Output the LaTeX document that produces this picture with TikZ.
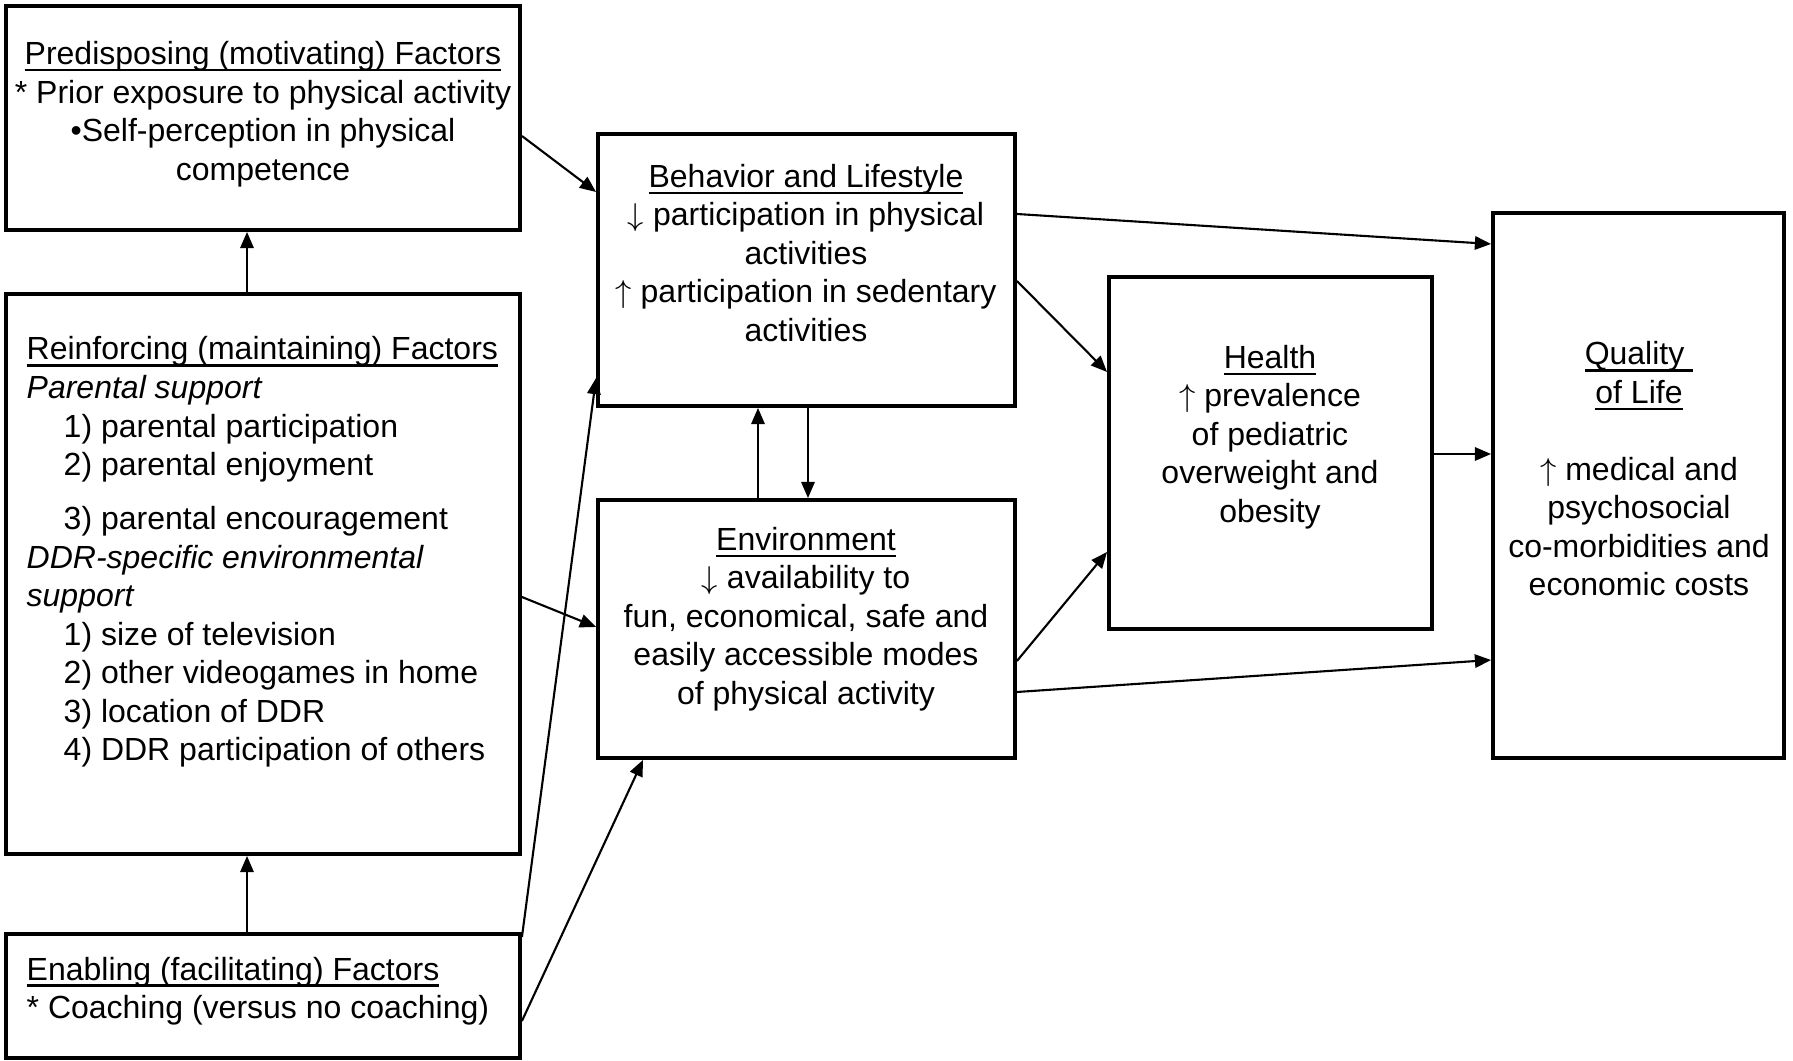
\documentclass[tikz,border=0pt]{standalone}
\usepackage{fontspec}
\setmainfont{Liberation Sans}
\usetikzlibrary{arrows.meta,fit}
\newcommand\myul[1]{\setbox0\hbox{#1}\rlap{\rule[-0.21em]{\wd0}{0.075em}}\box0}
\newcommand\ind{\hspace*{0.37cm}}
\newcommand\dnar{$\downarrow$}
\newcommand\upar{$\uparrow$}
\begin{document}
\begin{tikzpicture}[x=0.01cm,y=-0.01cm,
  box/.style={draw, line width=1.1pt, inner sep=0pt},
  txt/.style={inner sep=0pt, font=\fontsize{9.1}{10.95}\selectfont},
  conn/.style={line width=0.6pt, -{Triangle[length=4.6pt,width=3.8pt]}}]
\useasboundingbox[fill=white] (0,0) rectangle (1793,1061);

% boxes
\node[box, fit={(5.7,5.7)(520,230)}] (pred) {};
\node[box, fit={(5.7,294)(520,854)}] (reinf) {};
\node[box, fit={(5.7,934)(520,1058)}] (enab) {};
\node[box, fit={(598,134)(1015,406)}] (behav) {};
\node[box, fit={(598,500)(1015,758)}] (env) {};
\node[box, fit={(1109,277)(1432,629)}] (health) {};
\node[box, fit={(1493,213)(1784,758)}] (qol) {};

% texts
\node[txt, align=center] (predt) at (263,114)
  {\myul{Predisposing (motivating) Factors}\\
   * Prior exposure to physical activity\\
   •Self-perception in physical\\
   competence};
\node[txt, align=left, anchor=west] (reinft) at (26,552)
  {\myul{Reinforcing (maintaining) Factors}\\
   \textit{Parental support}\\
   \ind 1) parental participation\\
   \ind 2) parental enjoyment\\[0.155cm]
   \ind 3) parental encouragement\\
   \textit{DDR-specific environmental}\\
   \textit{support}\\
   \ind 1) size of television\\
   \ind 2) other videogames in home\\
   \ind 3) location of DDR\\
   \ind 4) DDR participation of others};
\node[txt, align=left, anchor=west] (enabt) at (26,991)
  {\myul{Enabling (facilitating) Factors}\\
   * Coaching (versus no coaching)};
\node[txt, align=center] (behavt) at (806,253)
  {\myul{Behavior and Lifestyle}\\
   \dnar{} participation in physical\\
   activities\\
   \upar{} participation in sedentary\\
   activities};
\node[txt, align=center] (envt) at (806,619)
  {\myul{Environment}\\
   \dnar{} availability to\\
   fun, economical, safe and\\
   easily accessible modes\\
   of physical activity};
\node[txt, align=center] (healtht) at (1270,437)
  {\myul{Health}\\
   \upar{} prevalence\\
   of pediatric\\
   overweight and\\
   obesity};
\node[txt, align=center] (qolt) at (1639,469)
  {\myul{Quality\ }\\
   \myul{of Life}\\[10.95pt]
   \upar{} medical and\\
   psychosocial\\
   co-morbidities and\\
   economic costs};

% connectors
\draw[conn] (reinf.north -| 247,0) -- (pred.south -| 247,0);
\draw[conn] (enab.north -| 247,0) -- (reinf.south -| 247,0);
\draw[conn] (pred.east |- 0,136) -- (behav.west |- 0,192);
\draw[conn] (enab.east |- 0,937) -- (behav.west |- 0,378);
\draw[conn] (enab.east |- 0,1021) -- (env.south -| 643,0);
\draw[conn] (reinf.east |- 0,597) -- (env.west |- 0,627);
\draw[conn] (env.north -| 758,0) -- (behav.south -| 758,0);
\draw[conn] (behav.south -| 808,0) -- (env.north -| 808,0);
\draw[conn] (behav.east |- 0,214) -- (qol.west |- 0,244);
\draw[conn] (behav.east |- 0,281) -- (health.west |- 0,372);
\draw[conn] (env.east |- 0,661) -- (health.west |- 0,552);
\draw[conn] (env.east |- 0,692) -- (qol.west |- 0,660);
\draw[conn] (health.east |- 0,454) -- (qol.west |- 0,454);
\end{tikzpicture}
\end{document}
